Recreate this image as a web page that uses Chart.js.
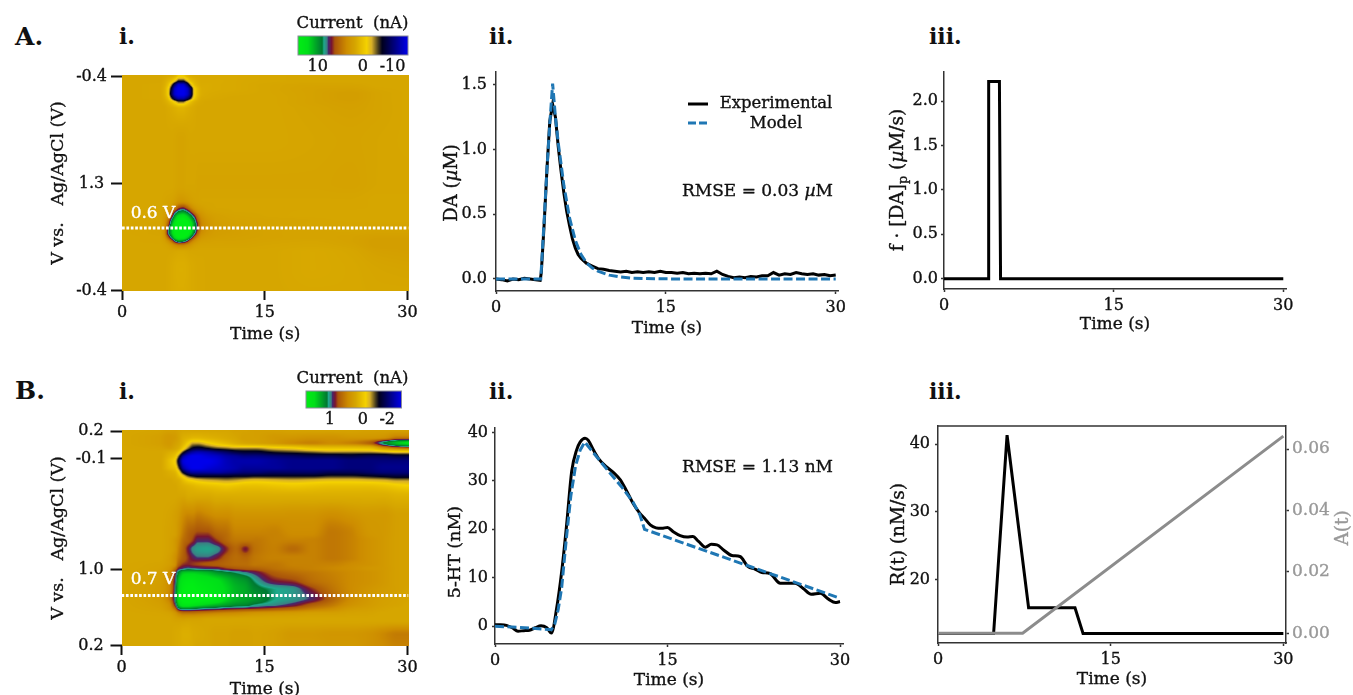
<!DOCTYPE html>
<html><head><meta charset="utf-8">
<script src="https://cdn.jsdelivr.net/npm/chart.js@4/dist/chart.umd.js"></script>
<style>
html,body{margin:0;padding:0;background:#fff;width:1353px;height:695px;overflow:hidden}
canvas{position:absolute}
.lab{position:absolute;font:bold 22px/24px "DejaVu Serif";color:#111}
.big{font-size:25px}
</style></head><body>
<div class="lab big" style="left:15px;top:25px">A.</div>
<div class="lab" style="left:119px;top:24px">i.</div>
<div class="lab" style="left:489px;top:24px">ii.</div>
<div class="lab" style="left:929px;top:24px">iii.</div>
<div class="lab big" style="left:15px;top:379px">B.</div>
<div class="lab" style="left:119px;top:379px">i.</div>
<div class="lab" style="left:489px;top:379px">ii.</div>
<div class="lab" style="left:929px;top:379px">iii.</div>
<script>
// ---------- DATA ----------
const heatATimes=[0,4,4.4,4.8,5.2,5.6,6,6.4,6.8,7.2,7.6,8,8.4,9,10,12,15,20,24,27,30];
const heatAScan=[0,2,4,6,8,10,12,15,30,50,58,61,63,65,67,69,71,73,75,77,79,82,90,100];
const heatACurrent=[
[0,0,-.1,-.3,-.5,-1.2,-3,-3,-1.5,-.6,-.4,-.3,-.2,-.2,-.2,-.2,-.1,0,0,0,0],
[0,0,-.3,-1,-2,-4.5,-7.5,-7.5,-5,-2,-1,-.5,-.3,-.3,-.3,-.2,-.1,0,0,0,0],
[0,-.1,-.5,-2,-6,-12,-15,-15,-12,-6,-2,-.8,-.4,-.4,-.3,-.2,0,.2,.2,0,0],
[0,-.1,-.7,-3,-9,-15,-16,-16,-15,-11,-4,-1.5,-.5,-.4,-.3,-.2,0,.3,.4,.1,0],
[0,-.1,-.7,-3,-10,-15,-16,-16,-15,-11,-4,-1.5,-.5,-.3,-.2,-.1,0,.3,.6,.2,0],
[0,-.1,-.5,-2,-7,-12,-14,-14,-12,-8,-3,-1,-.3,-.2,-.1,0,0,.3,.6,.2,0],
[0,0,-.2,-.8,-2,-4,-6,-6,-4,-2,-.8,-.3,-.1,0,0,0,0,.3,.5,.2,0],
[0,0,0,-.2,-.4,-.7,-1,-1,-.7,-.4,-.2,0,0,0,0,0,0,.2,.4,.2,0],
[0,0,0,0,0,.1,.2,.2,.1,0,0,0,0,0,0,0,0,.1,.2,.1,0],
[0,0,0,0,0,.1,.2,.2,.1,.1,.1,.2,.2,.2,.2,.2,.2,.2,.3,.1,.1],
[0,0,.1,.2,.3,.6,1,1,.8,.5,.3,.2,.1,.1,.1,.1,.1,.1,.1,0,0],
[0,0,.2,.4,.8,2,4,4.5,3.5,2,1,.6,.4,.2,.1,.1,.1,.1,.1,0,0],
[0,.1,.3,1,2.5,5,7,7.5,6.5,4.5,2.5,1.2,.8,.4,.2,.1,.1,0,0,0,0],
[0,.1,.5,1.5,4,8,10,10.5,9.5,7.5,5,2.5,1.3,.7,.4,.2,.1,0,0,0,0],
[0,.1,.7,2.5,6.5,10,12,12.5,11.5,9.5,7,3.5,1.8,1,.5,.3,.2,.1,0,0,0],
[0,.2,.8,3.5,8,11.5,13.5,14,13,11,8,4.5,2,1.2,.6,.4,.2,.1,.1,.1,.1],
[0,.2,1,5,9,12.5,14,14.5,13.5,11.5,8,4.5,2,1.2,.7,.5,.3,.2,.1,.2,.2],
[0,.2,1,5.5,9,12,13.5,14,13,10.5,7,3.5,1.6,1,.6,.5,.3,.2,.2,.3,.3],
[0,.1,.7,3.5,7,10.5,12,12,10.5,7.5,4,2,1,.7,.5,.4,.3,.2,.3,.5,.5],
[0,.1,.3,1.2,3,6,7.5,7,5.5,3,1.5,.8,.5,.4,.3,.3,.2,.1,.3,.6,.6],
[0,0,.1,.3,.8,1.5,2,2,1.5,1,.5,.3,.2,.2,.2,.2,.1,0,.2,.6,.6],
[0,0,0,0,0,-.1,-.2,-.2,-.1,0,0,0,0,0,0,0,0,-.2,0,.4,.5],
[0,0,0,-.1,-.3,-.5,-.6,-.6,-.5,-.3,-.2,-.1,-.1,0,0,0,0,-.2,-.1,.1,.2],
[0,0,0,-.1,-.3,-.4,-.5,-.5,-.4,-.3,-.2,-.1,-.1,0,0,0,0,-.1,-.1,0,0]];

const heatBTimes=[0,4,5,5.6,6,6.5,7,7.5,8,9,10,11,12,13,14,16,18,20,22,24,26,27.5,29,30];
const heatBScan=[0,3,5.5,8,10,12,14,17,19,21,23,26,30,40,48,51,55,59,62,64,66,70,74,78,81,83,85,88,95,100];
const heatBCurrent=[
[0,.02,.05,.05,.02,0,0,0,0,0,0,0,.03,.03,.05,.05,.03,.03,.03,.03,.05,.05,.05,.05],
[0,.05,.1,.08,.03,-.1,-.15,-.2,-.2,-.15,-.1,-.05,0,.05,.05,.1,.12,.15,.15,.12,.12,.15,.3,.3],
[0,.05,.1,.05,0,-.2,-.5,-.8,-.8,-.6,-.4,-.25,-.1,0,.03,.1,.2,.25,.2,.25,.4,.75,1.0,1.1],
[0,.02,.05,0,-.1,-.5,-1.0,-1.4,-1.5,-1.3,-1.1,-1,-.9,-.9,-.9,-.7,-.6,-.4,-.35,-.35,-.3,.1,.3,.35],
[0,0,-.1,-.2,-.5,-1.3,-1.9,-2.2,-2.3,-2.2,-2.0,-1.8,-1.6,-1.5,-1.5,-1.3,-1.2,-1.1,-1.0,-1.0,-1,-.9,-.8,-.8],
[0,0,-.2,-.4,-1.1,-2.2,-2.5,-2.6,-2.6,-2.5,-2.4,-2.2,-2.1,-2,-2,-1.9,-1.8,-1.7,-1.7,-1.6,-1.7,-1.7,-1.6,-1.6],
[0,0,-.3,-.6,-1.5,-2.5,-2.6,-2.6,-2.6,-2.6,-2.5,-2.3,-2.2,-2.2,-2.2,-2.1,-2,-2,-2,-1.9,-1.9,-1.9,-1.9,-1.9],
[0,0,-.25,-.4,-1.1,-2.2,-2.5,-2.6,-2.6,-2.5,-2.4,-2.3,-2.2,-2.1,-2.1,-2.1,-2,-2,-2,-1.9,-1.9,-2,-2,-2],
[0,0,-.1,-.2,-.6,-1.5,-2,-2.2,-2.2,-2.2,-2.2,-2.1,-2,-1.9,-1.9,-1.8,-1.8,-1.8,-1.7,-1.7,-1.8,-1.9,-1.9,-1.9],
[0,0,-.05,-.1,-.3,-.7,-1.1,-1.3,-1.4,-1.4,-1.4,-1.4,-1.35,-1.35,-1.3,-1.3,-1.3,-1.3,-1.2,-1.2,-1.3,-1.4,-1.5,-1.5],
[0,0,0,-.05,-.1,-.3,-.5,-.6,-.7,-.8,-.85,-.9,-.85,-.75,-.7,-.75,-.8,-.75,-.7,-.7,-.75,-.8,-.9,-.9],
[0,0,0,0,-.05,-.1,-.15,-.2,-.25,-.3,-.35,-.4,-.35,-.3,-.3,-.35,-.4,-.35,-.3,-.3,-.3,-.35,-.45,-.5],
[0,0,0,0,0,0,-.05,-.05,-.05,-.05,-.1,-.1,-.1,-.1,-.1,-.1,-.1,-.1,-.1,-.1,-.1,-.1,-.15,-.15],
[0,0,.02,.05,.1,.2,.25,.25,.3,.25,.2,.2,.15,.15,.15,.15,.15,.15,.2,.15,.1,.1,.05,.05],
[0,0,.03,.05,.15,.3,.4,.45,.5,.5,.4,.35,.25,.25,.25,.25,.2,.2,.3,.25,.12,.1,.05,.05],
[0,0,.03,.1,.2,.35,.42,.5,.6,.6,.5,.38,.3,.3,.3,.25,.25,.25,.3,.25,.15,.1,.05,.05],
[0,0,.03,.1,.25,.4,.55,.66,.69,.7,.67,.52,.38,.54,.33,.26,.36,.25,.3,.25,.15,.1,.05,.05],
[0,0,.05,.15,.3,.42,.5,.58,.62,.62,.55,.42,.35,.38,.3,.25,.25,.25,.3,.25,.15,.1,.05,.05],
[0,.02,.06,.15,.4,.5,.52,.5,.48,.45,.42,.38,.35,.35,.3,.3,.25,.25,.25,.2,.15,.1,.05,.05],
[0,.03,.1,.3,.55,.62,.66,.64,.62,.6,.58,.5,.45,.42,.4,.33,.28,.25,.22,.18,.12,.1,.05,.05],
[0,.05,.15,.5,.8,1,1.02,1.02,1,.95,.85,.78,.72,.65,.58,.42,.35,.3,.25,.2,.15,.1,.05,.05],
[0,.06,.2,.6,1,1.2,1.25,1.25,1.2,1.15,1.1,1,.9,.85,.72,.55,.5,.35,.28,.2,.15,.1,.05,.05],
[0,.07,.2,.65,1.05,1.28,1.32,1.32,1.28,1.22,1.15,1.05,.95,.9,.8,.72,.68,.52,.33,.2,.12,.08,.05,.03],
[0,.07,.25,.7,1.15,1.35,1.4,1.4,1.35,1.3,1.22,1.05,.95,.9,.85,.72,.68,.6,.4,.2,.1,.05,.03,.02],
[0,.05,.15,.55,1,1.2,1.2,1.15,1.1,1.02,.95,.88,.82,.8,.72,.66,.58,.42,.3,.15,.08,.04,.02,0],
[0,.03,.1,.3,.65,.75,.75,.72,.68,.64,.6,.55,.52,.5,.48,.42,.35,.25,.18,.08,.05,.02,0,0],
[0,.01,.03,.1,.22,.3,.3,.3,.28,.25,.22,.2,.18,.15,.12,.1,.08,.05,.05,.03,.02,0,0,0],
[0,0,0,.02,.03,.03,.02,.02,.02,0,0,0,0,0,0,0,0,0,0,0,0,0,0,0],
[0,0,0,-.03,-.05,-.1,-.1,-.05,-.03,0,.03,.03,.05,.05,.03,.05,.1,.1,.12,.12,.15,.22,.28,.28],
[0,0,0,-.03,-.05,-.08,-.08,-.05,0,0,.03,.03,.05,.05,.03,.05,.08,.08,.1,.1,.15,.2,.25,.25]];

const scanTicksA=[0,50,100];      const scanLabelsA=['-0.4','1.3','-0.4'];
const scanTicksB=[0,12.9,64.5,100]; const scanLabelsB=['0.2','-0.1','1.0','0.2'];
const timeTicks=[0,15,30];
const markerScanA=70.8, markerScanB=76.6;
const barTicksA=[.18,.59,.86]; const barLabelsA=['10','0','-10'];
const barTicksB=[.25,.595,.85]; const barLabelsB=['1','0','-2'];

const daExpT=[0,.5,1,1.5,2,2.5,3,3.5,3.9,4,4.25,4.5,4.75,5,5.25,5.5,5.75,6,6.25,6.5,6.75,7,7.25,7.5,8,8.5,9,9.5,10,10.5,11,11.5,12,12.5,13,13.5,14,14.5,15,15.5,16,16.5,17,17.5,18,18.5,19,19.5,20,20.5,21,21.5,22,22.5,23,23.5,24,24.5,25,25.5,26,26.5,27,27.5,28,28.5,29,29.5,30];
const daExpV=[0,-.005,-.015,0,-.005,.005,0,-.005,-.01,.05,.42,.85,1.22,1.35,1.25,1.02,.83,.66,.52,.41,.31,.24,.19,.16,.12,.1,.08,.075,.065,.06,.055,.06,.05,.055,.05,.055,.05,.06,.05,.05,.045,.05,.04,.045,.04,.045,.04,.06,.035,.02,.01,.015,.01,.02,.015,.025,.025,.05,.03,.04,.035,.05,.04,.035,.04,.03,.035,.025,.03];
const daModelT=[0,3.95,4.25,4.5,4.75,5,5.25,5.5,6,6.5,7,7.5,8,8.5,9,10,11,12,14,30];
const daModelV=[0,0,.45,.85,1.2,1.51,1.25,1.05,.72,.47,.3,.19,.125,.085,.06,.03,.015,.006,.001,0];
const daRateT=[0,3.95,3.95,4.9,5,30];
const daRateV=[0,0,2.22,2.22,0,0];

const htExpT=[0,.5,1,1.5,2,2.5,3,3.5,4,4.5,4.9,5.36,5.8,6.23,6.67,7.1,7.4,7.83,8.1,8.55,9,9.7,10.4,10.9,11.4,12,12.6,13,13.5,14,14.5,15,15.5,16.1,16.7,17.2,17.7,18.3,18.8,19.3,19.9,20.6,21.3,22,22.6,23.2,23.9,24.8,25.5,26.1,26.8,27.5,28.3,29,29.6,30];
const htExpV=[.3,.3,.2,-.3,-1,-.9,-.8,-.3,.1,-.3,-1.4,3.7,11.3,21,32,36.4,38,38.8,38.4,36.4,34.6,32.9,31.5,30.2,28.1,25.4,23.3,22.3,20.9,20.3,20.2,20.4,19.5,18.7,18.4,18.5,17.5,16.3,16.9,16.8,15.7,14.6,14.4,12.3,11.8,11.1,10.9,8.9,8.9,8.9,7.8,6.6,6.8,5.6,4.9,5.1];
const htModelT=[0,2,4.9,5.2,5.5,5.8,6.2,6.6,7,7.4,7.8,9,10,11,12,12.6,13,30];
const htModelV=[0,-.2,-.7,.5,3.5,8,18,27,33,36.3,38,34.5,31.6,28.8,25.6,23,20,5.8];
const releaseT=[0,4.83,6,7.87,11.9,12.6,30];
const releaseV=[12,12,41.3,15.8,15.8,12,12];
const autoT=[0,7.35,30];
const autoV=[0,0,.0642];

// ---------- HELPERS ----------
const SERIF='"DejaVu Serif"', INK='#111', SPINE='#333', BLUE='#1f77b4', GREY='#8c8c8c', AGREY='#999';
Chart.defaults.font.family=SERIF;
// slightly heavier glyphs, as in the reference's type
const baseFill=CanvasRenderingContext2D.prototype.fillText;
CanvasRenderingContext2D.prototype.fillText=function(s,x,y,m){
  baseFill.call(this,s,x,y,m);this.save();this.setLineDash([]);this.lineJoin='round';this.strokeStyle=this.fillStyle;this.lineWidth=.35;this.strokeText(s,x,y);this.restore();};
const pts=(T,V)=>T.map((t,i)=>({x:t,y:V[i]}));
const cmapStops=[[0,0,238,20],[.09,0,222,25],[.22,0,120,50],[.235,30,170,140],[.265,60,125,130],[.275,70,40,110],[.305,120,20,50],[.335,170,85,10],[.44,205,140,0],[.52,214,166,0],[.625,245,210,0],[.67,215,175,40],[.73,70,60,30],[.765,0,0,30],[1,0,0,235]];
function cmap(t){t=Math.max(0,Math.min(1,t));
  for(let i=1;i<cmapStops.length;i++){const a=cmapStops[i-1],b=cmapStops[i];
    if(t<=b[0]){const f=(t-a[0])/(b[0]-a[0]);return [a[1]+f*(b[1]-a[1]),a[2]+f*(b[2]-a[2]),a[3]+f*(b[3]-a[3])];}}
  return cmapStops[cmapStops.length-1].slice(1);}
function interp(xs,ys,x){const n=xs.length;if(x<=xs[0])return ys[0];if(x>=xs[n-1])return ys[n-1];
  let i=0;while(xs[i+1]<x)i++;const h=xs[i+1]-xs[i];
  const tan=k=>{if(k<=0)return (ys[1]-ys[0])/(xs[1]-xs[0]);if(k>=n-1)return (ys[n-1]-ys[n-2])/(xs[n-1]-xs[n-2]);
    const a=(ys[k]-ys[k-1])/(xs[k]-xs[k-1]),b=(ys[k+1]-ys[k])/(xs[k+1]-xs[k]);return a*b>0?2*a*b/(a+b):0;};
  const m0=tan(i),m1=tan(i+1),u=(x-xs[i])/h,u2=u*u,u3=u2*u;
  return (2*u3-3*u2+1)*ys[i]+(u3-2*u2+u)*h*m0+(-2*u3+3*u2)*ys[i+1]+(u3-u2)*h*m1;}
const heatPlugin=(times,scan,cur,vmax,vmin)=>({id:'heat',beforeDatasetsDraw(chart){
  const {ctx,chartArea:a,scales:{x,y}}=chart,w=Math.ceil(a.right-a.left),h=Math.ceil(a.bottom-a.top);
  const off=document.createElement('canvas');off.width=w;off.height=h;const oc=off.getContext('2d'),im=oc.createImageData(w,h);
  for(let i=0;i<w;i++){const t=x.getValueForPixel(a.left+i+.5),col=cur.map(r=>interp(times,r,t));
    for(let j=0;j<h;j++){const s=y.getValueForPixel(a.top+j+.5),v=interp(scan,col,s);
      const f=v>=0?.52*(1-v/vmax):.52+.48*(v/vmin),c=cmap(f),k=4*(j*w+i);
      im.data[k]=c[0];im.data[k+1]=c[1];im.data[k+2]=c[2];im.data[k+3]=255;}}
  oc.putImageData(im,0,0);ctx.drawImage(off,a.left,a.top);}});
const barPlugin={id:'bar',beforeDatasetsDraw(chart){const {ctx,chartArea:a,scales:{x}}=chart;
  for(let px=Math.floor(a.left);px<a.right;px++){const c=cmap(x.getValueForPixel(px+.5));
    ctx.fillStyle=`rgb(${c[0]|0},${c[1]|0},${c[2]|0})`;ctx.fillRect(px,a.top,1,a.bottom-a.top);}
  ctx.strokeStyle='#8a8a9a';ctx.lineWidth=1;ctx.strokeRect(a.left,a.top,a.right-a.left,a.bottom-a.top);}};
const topSpine={id:'topSpine',afterDatasetsDraw(chart){const {ctx,chartArea:a}=chart;ctx.save();ctx.strokeStyle=SPINE;ctx.lineWidth=1.5;
  ctx.beginPath();ctx.moveTo(a.left,a.top);ctx.lineTo(a.right,a.top);ctx.stroke();ctx.restore();}};
// text runs and legend keys given in page coordinates
const notes=(box,items)=>({id:'notes',afterDraw(chart){const c=chart.ctx;c.save();
  for(const n of items){
    if(n.key){c.strokeStyle=n.color;c.lineWidth=3;c.setLineDash(n.dash||[]);c.beginPath();c.moveTo(n.x-box.x,n.y-box.y);c.lineTo(n.x+n.key-box.x,n.y-box.y);c.stroke();c.setLineDash([]);continue;}
    const size=n.size||15,font=r=>`${r.it?'italic ':''}${r.sub?size*.7:size}px ${SERIF}`;
    let W=0;for(const r of n.runs){c.font=font(r);W+=c.measureText(r.t).width;}
    c.save();c.translate(n.x-box.x,n.y-box.y);if(n.rot)c.rotate(n.rot);
    c.fillStyle=n.color||INK;c.textBaseline='middle';c.textAlign='left';
    let px=n.align==='left'?0:n.align==='right'?-W:-W/2;
    for(const r of n.runs){c.font=font(r);c.fillText(r.t,px,r.sub?size*.3:0);px+=c.measureText(r.t).width;}
    c.restore();}
  c.restore();}});
const T=s=>[{t:s}];
function xAxis(h,opts={}){return Object.assign({type:'linear',min:0,max:30.2,position:'bottom',
  afterBuildTicks:s=>{s.ticks=timeTicks.map(v=>({value:v}));},afterFit:s=>{s.height=h;},
  ticks:{autoSkip:false,maxRotation:0,minRotation:0,color:INK,padding:opts.pad??4,font:{size:16},callback:v=>String(v)},
  grid:{drawOnChartArea:false,drawTicks:true,tickLength:opts.tl??3,tickWidth:opts.tw??1.5,tickColor:opts.tc??SPINE},
  border:opts.noBorder?{display:false}:{display:true,color:SPINE,width:1.5},
  title:{display:true,text:'Time (s)',color:INK,font:{size:17},padding:0}},opts.extra||{});}
function yAxis(w,min,max,ticks,fmt,opts={}){return Object.assign({type:'linear',min,max,position:opts.pos||'left',reverse:!!opts.reverse,
  afterBuildTicks:s=>{s.ticks=ticks.map(v=>({value:v}));},afterFit:s=>{s.width=w;},
  ticks:{autoSkip:false,maxRotation:0,minRotation:0,color:opts.color||INK,padding:opts.pad??4,crossAlign:opts.cross||'near',font:{size:opts.fs||16},callback:fmt},
  grid:{drawOnChartArea:false,drawTicks:true,tickLength:opts.tl??3,tickWidth:opts.tw??1.5,tickColor:opts.tc??SPINE},
  border:opts.noBorder?{display:false}:{display:true,color:SPINE,width:1.5},
  title:opts.title?{display:true,text:opts.title,color:INK,font:{size:opts.ts||17.5},padding:0}:{display:false}});}
function panel(box,area,datasets,scales,plugins){
  const cv=document.createElement('canvas');cv.width=box.w;cv.height=box.h;
  cv.style.left=box.x+'px';cv.style.top=box.y+'px';cv.style.width=box.w+'px';cv.style.height=box.h+'px';
  document.body.appendChild(cv);
  return new Chart(cv,{type:'line',data:{datasets},plugins,options:{responsive:false,animation:false,devicePixelRatio:1,
    layout:{padding:{left:area.padL??0,top:area.T-box.y,right:area.pad??(box.x+box.w-area.R),bottom:0}},
    parsing:false,normalized:true,events:[],
    plugins:{legend:{display:false},tooltip:{enabled:false},title:{display:false}},scales}});}
const line=(data,color,w,extra={})=>Object.assign({data,borderColor:color,borderWidth:w,pointRadius:0,tension:0,fill:false,borderJoinStyle:'miter',borderCapStyle:'butt'},extra);
const cells=(times,scan,cur)=>scan.flatMap((s,j)=>times.map((t,i)=>({x:t,y:s,v:cur[j][i]})));
const idxLabel=L=>(v,i)=>L[i];
const f1=v=>v.toFixed(1);

// ---------- i panels ----------
function heatPanel(box,area,times,scan,cur,vmax,vmin,ticks,labels,ymin,marker,txt,txtY){
  const rightS=30.1;
  panel(box,area,[
    line(pts([0,rightS],[marker,marker]),'#fff',3,{borderDash:[2.7,1.7]}),
    {data:cells(times,scan,cur),showLine:false,pointRadius:0,borderWidth:0}
  ],{x:xAxis(box.y+box.h-area.B,{tl:9,tw:2,tc:'#111',pad:3,noBorder:true,extra:{max:rightS}}),
     y:yAxis(area.L-box.x,ymin,100.2,ticks,idxLabel(labels),{reverse:true,tl:11,tw:2,tc:'#111',pad:4,cross:'center',noBorder:true,title:'V vs.   Ag/AgCl (V)'})},
   [heatPlugin(times,scan,cur,vmax,vmin),notes(box,[{runs:T(txt),x:153,y:txtY,color:'#fff',size:17}])]);
}
heatPanel({x:48,y:55,w:390,h:290},{L:122,T:75,R:408.5,B:291},heatATimes,heatAScan,heatACurrent,12,-16,scanTicksA,scanLabelsA,-.7,markerScanA,'0.6 V',214);
heatPanel({x:48,y:410,w:390,h:290},{L:121.5,T:430,R:408.5,B:646},heatBTimes,heatBScan,heatBCurrent,1.3,-2.6,scanTicksB,scanLabelsB,-.5,markerScanB,'0.7 V',580);

// ---------- colour bars ----------
function colorBar(box,area,ticks,labels,titleY){
  panel(box,Object.assign({padL:area.L-box.x},area),[{data:ticks.map(v=>({x:v,y:0})),showLine:false,pointRadius:0,borderWidth:0}],{
    x:{type:'linear',min:0,max:1,position:'bottom',afterBuildTicks:s=>{s.ticks=ticks.map(v=>({value:v}));},afterFit:s=>{s.height=box.y+box.h-area.B;},
       ticks:{autoSkip:false,maxRotation:0,minRotation:0,color:INK,padding:2,font:{size:16},callback:idxLabel(labels)},grid:{display:false,drawTicks:false},border:{display:false}},
    y:{display:false,min:0,max:1}},
    [barPlugin,notes(box,[{runs:T('Current  (nA)'),x:352.5,y:titleY,size:16.5}])]);
}
colorBar({x:285,y:10,w:135,h:65},{L:298,T:36,R:408,B:55},barTicksA,barLabelsA,24);
colorBar({x:285,y:365,w:135,h:65},{L:306,T:391,R:401.5,B:408},barTicksB,barLabelsB,379);

// ---------- A.ii ----------
panel({x:440,y:55,w:420,h:284},{L:496,T:72,R:838},[
  line(pts(daModelT,daModelV),BLUE,3,{borderDash:[9,3.5],order:0}),
  line(pts(daExpT,daExpV),'#000',3,{order:1})
],{x:xAxis(48,{extra:{max:30.2}}),y:yAxis(56,-.0928,1.6,[0,.5,1,1.5],f1,{pad:6})},
[notes({x:440,y:55},[
  {runs:[{t:'DA ('},{t:'µ',it:1},{t:'M)'}],x:452,y:183,rot:-Math.PI/2,size:18},
  {key:20,x:688,y:104,color:'#000'},{key:20,x:688,y:123,color:BLUE,dash:[8,3]},
  {runs:T('Experimental'),x:776,y:104,size:16.5},{runs:T('Model'),x:776,y:124,size:16.5},
  {runs:[{t:'RMSE = 0.03 '},{t:'µ',it:1},{t:'M'}],x:833,y:192,align:'right',size:17}])]);

// ---------- A.iii ----------
panel({x:885,y:55,w:420,h:280},{L:944,T:71.7,R:1286},[
  line(pts(daRateT,daRateV),'#000',3)
],{x:xAxis(46,{extra:{max:30.24}}),y:yAxis(59,-.116,2.33,[0,.5,1,1.5,2],f1,{pad:3})},
[notes({x:885,y:55},[{runs:[{t:'f · [DA]'},{t:'p',sub:1},{t:' ('},{t:'µ',it:1},{t:'M/s)'}],x:898,y:180,rot:-Math.PI/2,size:18.5}])]);

// ---------- B.ii ----------
panel({x:440,y:410,w:420,h:281},{L:495,T:428,R:843},[
  line(pts(htModelT,htModelV),BLUE,3,{borderDash:[9,3.5],order:0}),
  line(pts(htExpT,htExpV),'#000',3,{order:1,tension:.3,cubicInterpolationMode:'monotone'})
],{x:xAxis(47,{extra:{max:30.26}}),y:yAxis(55,-3.65,40.9,[0,10,20,30,40],v=>String(v),{pad:4})},
[notes({x:440,y:410},[{runs:T('5-HT (nM)'),x:455,y:552,rot:-Math.PI/2,size:17.5},
 {runs:T('RMSE = 1.13 nM'),x:833,y:468,align:'right',size:17}])]);

// ---------- B.iii ----------
const rateSets=[
  line(pts(autoT,autoV),GREY,3,{yAxisID:'y2',order:0}),
  line(pts(releaseT,releaseV),'#000',3,{yAxisID:'y',order:1})
];
panel({x:888,y:410,w:465,h:280},{L:938,T:426,R:1286,pad:0},rateSets,{
  x:xAxis(47,{extra:{max:30.23}}),
  y:yAxis(50,10.6,42.66,[20,30,40],v=>String(v),{pad:5,title:'R(t) (nM/s)',ts:18.5}),
  y2:yAxis(67,-.00316,.0675,[0,.02,.04,.06],v=>v.toFixed(2),{pos:'right',color:AGREY,fs:17,pad:3})
},[topSpine,notes({x:888,y:410},[{runs:T('A(t)'),x:1343,y:528,rot:-Math.PI/2,size:18.5,color:AGREY}])]);
</script>
</body></html>
